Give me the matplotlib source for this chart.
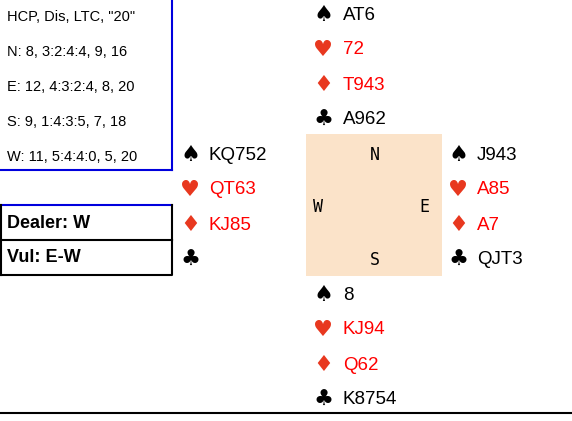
import matplotlib.pyplot as plt
from matplotlib.patches import Rectangle

# hands: spades, hearts, diamonds, clubs
north = ['AT6', '72', 'T943', 'A962']
west = ['KQ752', 'QT63', 'KJ85', '']
east = ['J943', 'A85', 'A7', 'QJT3']
south = ['8', 'KJ94', 'Q62', 'K8754']
suits = ['\u2660', '\u2665', '\u2666', '\u2663']
suit_colors = ['black', '#E8381F', '#E8381F', 'black']
text_colors = ['black', '#FF0000', '#FF0000', 'black']

info_lines = ['HCP, Dis, LTC, "20"', 'N: 8, 3:2:4:4, 9, 16', 'E: 12, 4:3:2:4, 8, 20',
              'S: 9, 1:4:3:5, 7, 18', 'W: 11, 5:4:4:0, 5, 20']
dealer = 'Dealer: W'
vul = 'Vul: E-W'

fig = plt.figure(figsize=(5.72, 4.21), dpi=100)
ax = fig.add_axes([0, 0, 1, 1])
ax.set_xlim(0, 572)
ax.set_ylim(421, 0)
ax.axis('off')

# info box
for i, s in enumerate(info_lines):
    ax.text(7, 17 + 35 * i, s, fontsize=10.5, family='Liberation Sans', va='center')
ax.plot([172, 172], [0, 170], color='#0000DD', lw=1.5)
ax.plot([0, 172], [170, 170], color='#0000DD', lw=1.5)

# dealer / vul
ax.plot([0, 172], [205, 205], color='#0000DD', lw=1.5)
ax.plot([172, 172], [205, 240], color='black', lw=1.5)
ax.plot([0, 172], [240, 240], color='black', lw=1.5)
ax.plot([0, 172, 172], [275, 275, 240], color='black', lw=1.5)
ax.plot([1, 1], [205, 275], color='black', lw=1.5)
ax.text(7, 223, dealer, fontsize=13, weight='bold', family='Liberation Sans', va='center')
ax.text(7, 258, vul, fontsize=13, weight='bold', family='Liberation Sans', va='center')


def draw_hand(cards, xs, xt, y0):
    for i, c in enumerate(cards):
        y = y0 + 35 * i
        ax.text(xs, y, suits[i], fontsize=16, color=suit_colors[i], ha='center', va='center')
        ax.text(xt, y, c, fontsize=13.5, color=text_colors[i], family='Liberation Sans', va='center')


draw_hand(north, 323, 343, 15)
draw_hand(west, 190, 209, 155)
draw_hand(east, 458, 477, 155)
draw_hand(south, 323, 343, 295)

# compass
ax.add_patch(Rectangle((306, 134), 136, 142, color='#FBE3C9', lw=0))
for lab, x, y in [('N', 375, 155), ('W', 318, 207), ('E', 424, 207), ('S', 375, 260)]:
    ax.text(x, y, lab, fontsize=12, family='DejaVu Sans Mono', ha='center', va='center')

ax.plot([0, 572], [413, 413], color='black', lw=1.5)

fig.savefig('out.png', dpi=100)
